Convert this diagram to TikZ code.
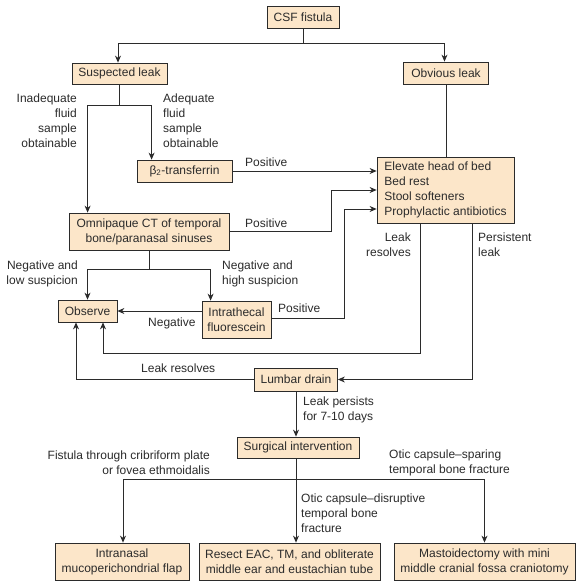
\documentclass[tikz,border=0pt]{standalone}
\usepackage{fontspec}
\setmainfont{Liberation Sans}
\usetikzlibrary{arrows.meta}
\definecolor{boxfill}{HTML}{FCE6C9}
\definecolor{ink}{HTML}{2B2B2B}
\begin{document}
\begin{tikzpicture}[x=1pt,y=-1pt,
  font=\fontsize{12}{15}\selectfont,
  every node/.style={text=ink},
  box/.style={draw=ink,fill=boxfill,line width=0.8pt,inner sep=0pt,align=center},
  lbl/.style={inner sep=0pt},
  conn/.style={draw=ink,line width=0.8pt},
  arr/.style={conn,-{Stealth[length=7pt,width=6pt]}}]
\useasboundingbox[fill=white] (0,0) rectangle (582,585);

% boxes
\node[box,minimum width=72pt,minimum height=22pt] (csf) at (303,17) {CSF fistula};
\node[box,minimum width=95pt,minimum height=21pt] (sus) at (119.5,73.5) {Suspected leak};
\node[box,minimum width=85pt,minimum height=22pt] (obv) at (446,73) {Obvious leak};
\node[box,minimum width=95pt,minimum height=22pt] (b2) at (184.5,171) {β\textsubscript{2}-transferrin};
\node[box,minimum width=137pt,minimum height=66pt,align=left] (elev) at (445.5,190) {Elevate head of bed\\Bed rest\\Stool softeners\\Prophylactic antibiotics};
\node[box,minimum width=160pt,minimum height=37pt] (omni) at (149,231.5) {Omnipaque CT of temporal\\bone/paranasal sinuses};
\node[box,minimum width=59pt,minimum height=22pt] (obs) at (87.5,311) {Observe};
\node[box,minimum width=69pt,minimum height=37pt] (intra) at (236.5,319.5) {Intrathecal\\fluorescein};
\node[box,minimum width=83pt,minimum height=23pt] (lumb) at (296,379.5) {Lumbar drain};
\node[box,minimum width=122pt,minimum height=21pt] (surg) at (298,447.5) {Surgical intervention};
\node[box,minimum width=134pt,minimum height=37pt] (flap) at (122,561.5) {Intranasal\\mucoperichondrial flap};
\node[box,minimum width=181pt,minimum height=37pt] (resect) at (289.5,561.5) {Resect EAC, TM, and obliterate\\middle ear and eustachian tube};
\node[box,minimum width=181pt,minimum height=37pt] (mast) at (484.5,561.5) {Mastoidectomy with mini\\middle cranial fossa craniotomy};

% labels
\node[lbl,anchor=east,align=right] (l1) at (77,120.5) {Inadequate\\fluid\\sample\\obtainable};
\node[lbl,anchor=west,align=left] (l2) at (163,120.5) {Adequate\\fluid\\sample\\obtainable};
\node[lbl,anchor=west] (l3) at (245,162) {Positive};
\node[lbl,anchor=west] (l4) at (245,223) {Positive};
\node[lbl,anchor=east,align=right] (l5) at (78,273.5) {Negative and\\low suspicion};
\node[lbl,anchor=west,align=left] (l6) at (222,273.5) {Negative and\\high suspicion};
\node[lbl,anchor=west] (l7) at (148,323) {Negative};
\node[lbl,anchor=west] (l8) at (278,308) {Positive};
\node[lbl,anchor=east,align=right] (l9) at (411,244.5) {Leak\\resolves};
\node[lbl,anchor=west,align=left] (l10) at (478,244.5) {Persistent\\leak};
\node[lbl,anchor=west] (l11) at (141,368) {Leak resolves};
\node[lbl,anchor=west,align=left] (l12) at (303,409.5) {Leak persists\\for 7-10 days};
\node[lbl,anchor=east,align=right] (l13) at (210,462.5) {Fistula through cribriform plate\\or fovea ethmoidalis};
\node[lbl,anchor=west,align=left] (l14) at (389,462.5) {Otic capsule–sparing\\temporal bone fracture};
\node[lbl,anchor=west,align=left] (l15) at (301,513) {Otic capsule–disruptive\\temporal bone\\fracture};

% connectors
\coordinate (j1) at (303,43);
\draw[conn] (csf.south) -- (j1);
\draw[arr] (j1) -| ([xshift=-1.5pt]sus.north);
\draw[arr] (j1) -| ([xshift=-1.5pt]obv.north);

\coordinate (j2) at (119.5,105);
\draw[conn] (sus.south) -- (j2);
\draw[arr] (j2) -| ([xshift=19pt]omni.north west);
\draw[arr] (j2) -| ([xshift=15pt]b2.north west);

\draw[arr] (b2.east) -- (b2.east -| elev.west);
\draw[conn] (obv.south) -- (obv.south |- elev.north);
\draw[arr] (omni.east) -- ++(102,0) |- (elev.west);
\draw[arr] ([yshift=1.5pt]intra.east) -- ++(73,0) |- ([yshift=-19pt]elev.west);

\coordinate (j3) at (149,269);
\draw[conn] (omni.south) -- (j3);
\draw[arr] (j3) -| (obs.north);
\draw[arr] (j3) -| ([xshift=9pt]intra.north west);

\draw[arr] (intra.west |- obs.east) -- (obs.east);
\draw[arr] ([xshift=-25.5pt]elev.south) -- ++(0,130) -| ([xshift=15.5pt]obs.south);
\draw[arr] ([xshift=26.5pt]elev.south) |- (lumb.east);
\draw[arr] (lumb.west) -| ([xshift=-11.5pt]obs.south);
\draw[arr] (lumb.south) -- (lumb.south |- surg.north);
\draw[arr] ([xshift=-2pt]surg.south) -- ([xshift=-2pt]surg.south |- resect.north);
\coordinate (j4) at (296,479);
\draw[arr] (j4) -| ([xshift=1pt]flap.north);
\draw[arr] (j4) -| (mast.north);
\end{tikzpicture}
\end{document}
